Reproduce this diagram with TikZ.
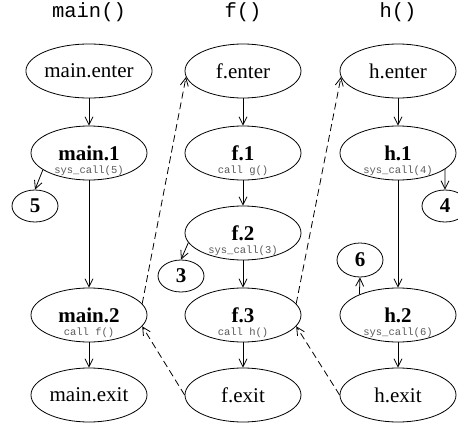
\documentclass[tikz,border=0pt]{standalone}
\usepackage{fontspec}
\setmainfont{Liberation Serif}
\setmonofont{Liberation Mono}
\usetikzlibrary{shapes.geometric,arrows.meta}
\definecolor{subgray}{RGB}{90,90,90}
\tikzset{
  blk/.style={ellipse, draw, line width=0.8pt, minimum width=116pt, minimum height=54pt,
    inner sep=0pt, font=\fontsize{21}{21}\selectfont},
  stmt/.style={blk, font=\fontsize{21}{21}\selectfont\bfseries},
  sub/.style={label={[font=\fontsize{10.5}{10.5}\ttfamily, text=subgray, yshift=-18pt]center:#1}},
  num/.style={ellipse, draw, line width=0.8pt, minimum width=46pt, minimum height=32pt,
    inner sep=0pt, font=\fontsize{21}{21}\selectfont\bfseries},
  hdr/.style={font=\fontsize{20.5}{20.5}\ttfamily, inner sep=0pt},
  flow/.style={line width=0.8pt, -{Straight Barb[length=8pt,width=8pt]}},
  xfer/.style={flow, dashed, dash pattern=on 7pt off 4pt}
}
\begin{document}
\begin{tikzpicture}[x=1pt,y=-1pt]
\useasboundingbox (0,0) rectangle (458,426);
\clip (0,0) rectangle (458,426);

% column headers
\node[hdr] (hmain) at (89,12) {main()};
\node[hdr] (hf)    at (243,12) {f()};
\node[hdr] (hh)    at (398,12) {h()};

% main()
\node[blk]  (mainenter) at (89,71)  {main.enter};
\node[stmt, sub={sys\_call(5)}] (main1) at (89,153) {main.1};
\node[stmt, sub={call f()}]     (main2) at (89,315) {main.2};
\node[blk]  (mainexit)  at (89,395) {main.exit};
\node[num]  (five) at (35,206) {5};

% f()
\node[blk]  (fenter) at (243,71)  {f.enter};
\node[stmt, sub={call g()}]     (f1) at (243,153) {f.1};
\node[stmt, sub={sys\_call(3)}] (f2) at (243,233) {f.2};
\node[stmt, sub={call h()}]     (f3) at (243,315) {f.3};
\node[blk]  (fexit)  at (243,395) {f.exit};
\node[num]  (three) at (181,276) {3};

% h()
\node[blk]  (henter) at (398,71)  {h.enter};
\node[stmt, sub={sys\_call(4)}] (h1) at (398,153) {h.1};
\node[stmt, sub={sys\_call(6)}] (h2) at (398,315) {h.2};
\node[blk]  (hexit)  at (398,395) {h.exit};
\node[num]  (four) at (445,206) {4};
\node[num, minimum height=34pt]  (six) at (360,260) {6};

% intra-procedural flow
\draw[flow] (mainenter) -- (main1);
\draw[flow] (main1) -- (main2);
\draw[flow] (main2) -- (mainexit);
\draw[flow] (fenter) -- (f1);
\draw[flow] (f1) -- (f2);
\draw[flow] (f2) -- (f3);
\draw[flow] (f3) -- (fexit);
\draw[flow] (henter) -- (h1);
\draw[flow] (h1) -- (h2);
\draw[flow] (h2) -- (hexit);

% system calls
\draw[flow] (main1.200) -- (five.north);
\draw[flow] (f2.190) -- (three.north);
\draw[flow] (h1.341) -- (four.north);
\draw[flow] (h2.152) -- (six.south);

% calls and returns
\draw[xfer] (main2.12) -- (fenter.186);
\draw[xfer] (fexit.180) -- (main2.348);
\draw[xfer] (f3.12) -- (henter.186);
\draw[xfer] (hexit.180) -- (f3.348);
\end{tikzpicture}
\end{document}
